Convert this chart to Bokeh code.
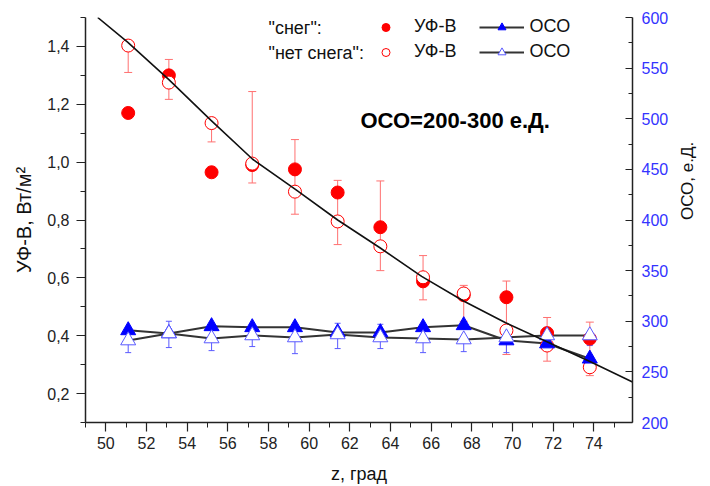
import math
from bokeh.plotting import figure
from bokeh.models import (Range1d, LinearAxis, FixedTicker, ColumnDataSource,
                          Whisker, TeeHead, Legend, LegendItem, Label)
from bokeh.embed import file_html
from bokeh.resources import INLINE

# ---------------- data ----------------
zenith = [51.1, 53.1, 55.2, 57.2, 59.3, 61.4, 63.5, 65.6, 67.6, 69.7, 71.7, 73.8]

uv_snow = [1.17, 1.30, 0.965, 0.99, 0.975, 0.895, 0.775, 0.588, 0.54, 0.533, 0.409, 0.39]
uv_nosnow = [1.403, 1.275, 1.135, 0.995, 0.898, 0.795, 0.709, 0.602, 0.546, 0.418, 0.366, 0.291]
uv_nosnow_lo = [1.31, 1.217, 1.07, 0.928, 0.82, 0.715, 0.625, 0.524, 0.45, 0.335, 0.312, 0.262]
uv_nosnow_hi = [1.403, 1.355, 1.135, 1.244, 1.078, 0.937, 0.935, 0.677, 0.574, 0.589, 0.463, 0.447]

oco_snow = [291, 288, 295, 294, 294, 289, 289, 294, 296, 281, 278, 263]
oco_nosnow = [281, 288, 283, 286, 284, 287, 284, 283, 282, 284, 286, 286]
oco_nosnow_lo = [269, 274, 271, 275, 268, 273, 273, 269, 270, 269, 276, 276]
oco_nosnow_hi = [281, 300, 283, 286, 284, 298, 297, 283, 282, 284, 286, 286]

fit_z = [49.6, 51.07, 53.1, 55.16, 57.22, 59.34, 61.4, 63.46, 65.53, 67.59, 69.66, 71.72, 73.83, 75.9]
fit_uv = [1.50, 1.415, 1.285, 1.145, 1.01, 0.905, 0.80, 0.705, 0.605, 0.52, 0.445, 0.378, 0.31, 0.24]

x_ticks = [50, 52, 54, 56, 58, 60, 62, 64, 66, 68, 70, 72, 74]
x_minor = list(range(49, 77))
uv_ticks = [0.2, 0.4, 0.6, 0.8, 1.0, 1.2, 1.4]
uv_tick_labels = ["0,2", "0,4", "0,6", "0,8", "1,0", "1,2", "1,4"]
uv_minor = [0.1, 0.3, 0.5, 0.7, 0.9, 1.1, 1.3, 1.5]
oco_ticks = [200, 250, 300, 350, 400, 450, 500, 550, 600]
oco_minor = [225, 275, 325, 375, 425, 475, 525, 575]

FONT = "Liberation Sans"
RED = "#ff0000"
RED_ERR = "#ff7070"
BLUE = "#0000ff"
BLUE_OPEN = "#5a5aff"
AXIS = "#222222"
LINE = "#333333"

p = figure(width=710, height=486, output_backend="svg", toolbar_location=None,
           x_range=Range1d(49, 75.9), y_range=Range1d(0.1, 1.5),
           min_border_left=85, min_border_right=78, min_border_top=17, min_border_bottom=64,
           x_axis_label="z, град", y_axis_label="УФ-В, Вт/м²")
p.extra_y_ranges = {"oco": Range1d(200, 600)}
p.outline_line_color = None
p.xgrid.visible = False
p.ygrid.visible = False
p.background_fill_color = "white"
p.border_fill_color = "white"

# left axis
ya = p.yaxis[0]
ya.ticker = FixedTicker(ticks=uv_ticks, minor_ticks=uv_minor)
ya.major_label_overrides = {t: l for t, l in zip(uv_ticks, uv_tick_labels)}
# bottom axis
xa = p.xaxis[0]
xa.ticker = FixedTicker(ticks=x_ticks, minor_ticks=x_minor)

for ax in (xa, ya):
    ax.axis_line_color = AXIS
    ax.axis_line_width = 1.5
    ax.major_tick_line_color = AXIS
    ax.minor_tick_line_color = AXIS
    ax.major_tick_line_width = 1.2
    ax.major_tick_out = 9
    ax.major_tick_in = 0
    ax.minor_tick_out = 5
    ax.minor_tick_in = 0
    ax.major_label_text_font = FONT
    ax.major_label_text_font_size = "16px"
    ax.major_label_text_color = "#222222"
    ax.axis_label_text_font = FONT
    ax.axis_label_text_font_style = "normal"
    ax.axis_label_text_color = "#111111"
xa.axis_label_text_font_size = "18px"
ya.axis_label_text_font_size = "20px"
ya.major_label_standoff = 7
ya.axis_label_standoff = 9
xa.major_label_standoff = 5
xa.axis_label_standoff = 12

# right axis
ra = LinearAxis(y_range_name="oco", axis_label="ОСО, е.Д.")
ra.ticker = FixedTicker(ticks=oco_ticks, minor_ticks=oco_minor)
ra.axis_line_color = AXIS
ra.axis_line_width = 1.5
ra.major_tick_line_color = AXIS
ra.minor_tick_line_color = AXIS
ra.major_tick_line_width = 1.2
ra.major_tick_in = 7
ra.major_tick_out = 0
ra.minor_tick_in = 4
ra.minor_tick_out = 0
ra.major_label_text_font = FONT
ra.major_label_text_font_size = "16px"
ra.major_label_text_color = "#3333ff"
ra.major_label_standoff = 9
ra.axis_label_text_font = FONT
ra.axis_label_text_font_size = "17px"
ra.axis_label_text_font_style = "normal"
ra.axis_label_text_color = "#111111"
ra.axis_label_standoff = 16
ra.axis_label_orientation = math.pi / 2
p.add_layout(ra, "right")

# ---------------- sources ----------------
uv_src = ColumnDataSource(dict(x=zenith, snow=uv_snow, nosnow=uv_nosnow,
                               lo=uv_nosnow_lo, hi=uv_nosnow_hi))
oco_src = ColumnDataSource(dict(x=zenith, snow=oco_snow, nosnow=oco_nosnow,
                                lo=oco_nosnow_lo, hi=oco_nosnow_hi))
fit_src = ColumnDataSource(dict(x=fit_z, y=fit_uv))

# error bars
p.add_layout(Whisker(source=uv_src, base="x", lower="lo", upper="hi",
                     line_color=RED_ERR, line_width=1,
                     lower_head=TeeHead(size=8, line_color=RED_ERR, line_width=1),
                     upper_head=TeeHead(size=8, line_color=RED_ERR, line_width=1)))
p.add_layout(Whisker(source=oco_src, base="x", lower="lo", upper="hi", y_range_name="oco",
                     line_color=BLUE_OPEN, line_width=1,
                     lower_head=TeeHead(size=6, line_color=BLUE_OPEN, line_width=1),
                     upper_head=TeeHead(size=6, line_color=BLUE_OPEN, line_width=1)))

# OCO connecting lines
l_snow = p.line("x", "snow", source=oco_src, y_range_name="oco", line_color=LINE, line_width=2)
l_nosnow = p.line("x", "nosnow", source=oco_src, y_range_name="oco", line_color=LINE, line_width=2)

# UV markers
r_uv_snow = p.scatter("x", "snow", source=uv_src, marker="circle", size=13,
                      fill_color=RED, line_color=RED)
r_uv_nosnow = p.scatter("x", "nosnow", source=uv_src, marker="circle", size=13,
                        fill_color="white", line_color=RED, line_width=1)

# OCO markers
r_oco_snow = p.scatter("x", "snow", source=oco_src, y_range_name="oco", marker="triangle",
                       size=15, fill_color=BLUE, line_color=BLUE)
r_oco_nosnow = p.scatter("x", "nosnow", source=oco_src, y_range_name="oco", marker="triangle",
                         size=15, fill_color="white", line_color=BLUE_OPEN, line_width=1)

# fitted curve
p.line("x", "y", source=fit_src, line_color="#111111", line_width=1.6)

# ---------------- legend ----------------
def make_legend(items, y):
    lg = Legend(items=items, orientation="horizontal", location=(278, y),
                glyph_width=45, glyph_height=20, label_height=20, label_standoff=6,
                spacing=22, padding=0, margin=0, border_line_color=None,
                background_fill_alpha=0, label_text_font=FONT,
                label_text_font_size="18px", label_text_color="#111111")
    p.add_layout(lg, "center")

make_legend([LegendItem(label="УФ-В", renderers=[r_uv_snow]),
             LegendItem(label="ОСО", renderers=[l_snow, r_oco_snow])], 385)
make_legend([LegendItem(label="УФ-В", renderers=[r_uv_nosnow]),
             LegendItem(label="ОСО", renderers=[l_nosnow, r_oco_nosnow])], 360)

for txt, yy in (('"снег":', 395), ('"нет снега":', 370)):
    p.add_layout(Label(x=183, y=yy, x_units="screen", y_units="screen", text=txt,
                       text_font=FONT, text_font_size="18px", text_baseline="middle",
                       text_color="#111111"))

p.add_layout(Label(x=275, y=302, x_units="screen", y_units="screen",
                   text="ОСО=200-300 е.Д.", text_font=FONT, text_font_size="22px",
                   text_font_style="bold", text_baseline="middle", text_color="#000000"))

open("out.html", "w").write(file_html(p, INLINE))
